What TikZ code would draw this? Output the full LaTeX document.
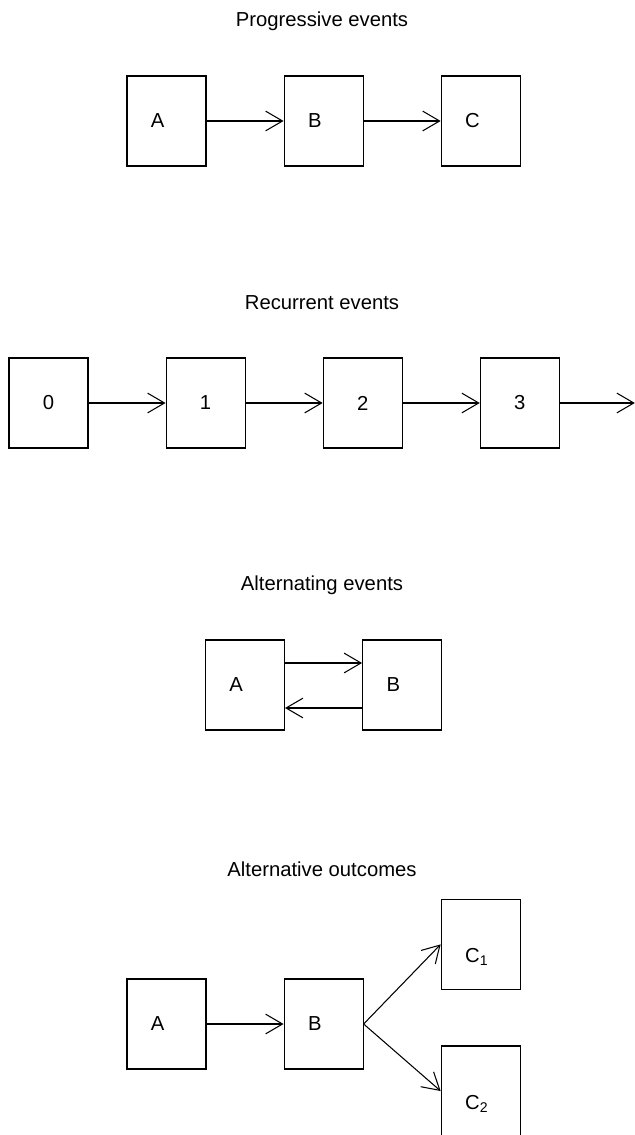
\documentclass[tikz,border=0pt]{standalone}
\usepackage{fontspec}
\setmainfont{Liberation Sans}
\usetikzlibrary{arrows.meta, positioning}

\begin{document}
\begin{tikzpicture}[
  x=0.025cm, y=-0.025cm, line width=0.75pt,
  every node/.style={font=\fontsize{14.4}{17}\selectfont},
  box/.style={draw, inner sep=0pt, minimum width=1.975cm, minimum height=2.25cm},
  lbox/.style={box, inner xsep=0.6cm, text width=0.775cm, align=left},
  sub/.style={text height=0.925cm, text depth=0pt},
  arr/.style={-{Straight Barb[length=12pt, width=14pt]}}
]
  \useasboundingbox (0,0) rectangle (635,1135);

  % progressive
  \node (prog) at (322,21) {Progressive events};
  \node[lbox] (pa) at (166.5,121) {A};
  \node[lbox, right=1.925cm of pa] (pb) {B};
  \node[lbox, right=1.925cm of pb] (pc) {C};
  \draw[arr] (pa) -- (pb);
  \draw[arr] (pb) -- (pc);

  % recurrent
  \node (rec) at (322,303) {Recurrent events};
  \node[box] (r0) at (48.5,403) {0};
  \node[box, right=1.925cm of r0] (r1) {1};
  \node[box, right=1.925cm of r1] (r2) {2};
  \node[box, right=1.925cm of r2] (r3) {3};
  \coordinate (rend) at ([xshift=1.875cm]r3.east);
  \draw[arr] (r0) -- (r1);
  \draw[arr] (r1) -- (r2);
  \draw[arr] (r2) -- (r3);
  \draw[arr] (r3) -- (rend);

  % alternating
  \node (alt) at (322,585) {Alternating events};
  \node[lbox] (aa) at (245,685) {A};
  \node[lbox, right=1.925cm of aa] (ab) {B};
  \draw[arr] ([yshift=0.55cm]aa.east) -- ([yshift=0.55cm]ab.west);
  \draw[arr] ([yshift=-0.575cm]ab.west) -- ([yshift=-0.575cm]aa.east);

  % alternative outcomes
  \node (out) at (322,869) {Alternative outcomes};
  \node[lbox] (oa) at (166.5,1024) {A};
  \node[lbox, right=1.925cm of oa] (ob) {B};
  \node[lbox, sub, right=1.925cm of ob, yshift=1.99cm] (oc1) {C\textsubscript{1}};
  \node[lbox, sub, right=1.925cm of ob, yshift=-1.675cm] (oc2) {C\textsubscript{2}};
  \draw[arr] (oa) -- (ob);
  \draw[arr] (ob.east) -- (oc1.west);
  \draw[arr] (ob.east) -- (oc2.west);
\end{tikzpicture}
\end{document}
